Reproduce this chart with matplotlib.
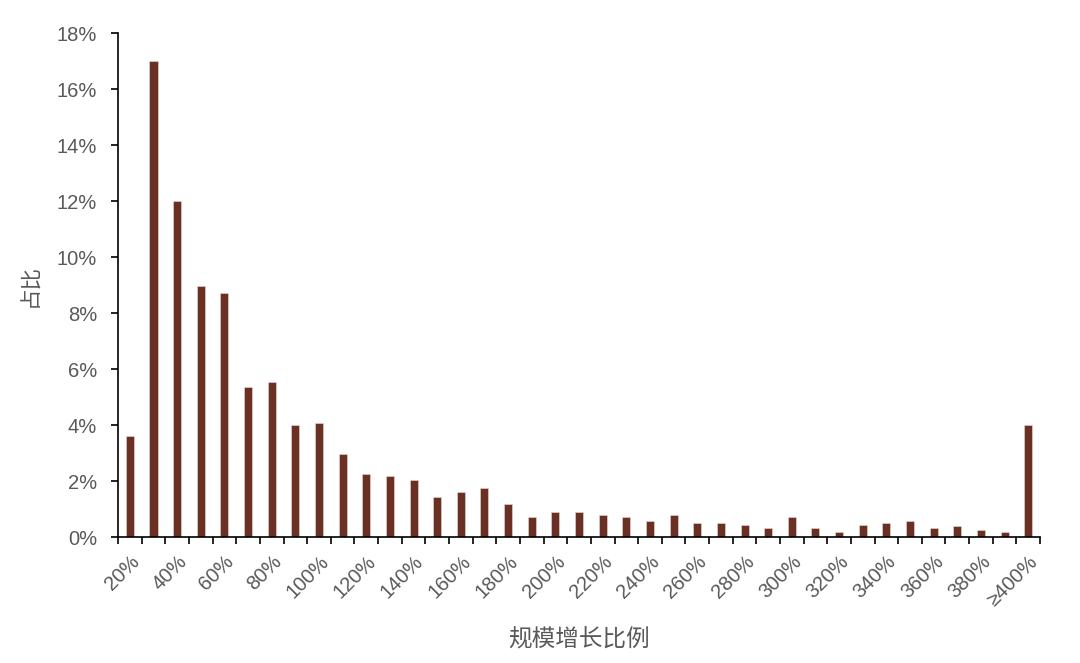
import numpy as np
import matplotlib.pyplot as plt
from matplotlib.ticker import FuncFormatter, FixedLocator

plt.rcParams['font.family'] = ['Liberation Sans', 'Noto Sans CJK SC', 'DejaVu Sans']

# growth-ratio buckets, 20% .. 390% in steps of 10, then >=400%
categories = [f"{v}%" for v in range(20, 400, 10)] + ["≥400%"]
shares = [3.60, 17.02, 12.01, 8.98, 8.72, 5.36, 5.55, 4.00, 4.08, 2.98,
          2.25, 2.18, 2.05, 1.42, 1.62, 1.74, 1.17, 0.70, 0.89, 0.89,
          0.77, 0.70, 0.58, 0.77, 0.51, 0.51, 0.44, 0.31, 0.70, 0.31,
          0.19, 0.44, 0.51, 0.58, 0.31, 0.38, 0.25, 0.19, 4.01]
y_ticks = [0, 2, 4, 6, 8, 10, 12, 14, 16, 18]

text_color = "#595959"
bar_color = "#6B3024"

fig = plt.figure(figsize=(10.8, 6.63), dpi=100)
ax = fig.add_axes([0.1093, 0.190, 0.8537, 0.760])

x = np.arange(len(categories))
ax.bar(x, shares, width=0.34, color=bar_color, edgecolor="#E8D8D4", linewidth=0.4)

ax.set_xlim(-0.5, len(categories) - 0.5)
ax.set_ylim(0, 18)
ax.set_yticks(y_ticks)
ax.yaxis.set_major_formatter(FuncFormatter(lambda v, p: f"{v:.0f}%"))

# labels every other category, tick marks on the category boundaries
label_pos = [i for i in range(len(categories)) if i % 2 == 0]
ax.set_xticks(label_pos)
ax.set_xticklabels([categories[i] for i in label_pos], rotation=45,
                   ha="right", rotation_mode="anchor")
ax.xaxis.set_minor_locator(FixedLocator(np.arange(-0.5, len(categories), 1.0)))
ax.tick_params(axis="x", which="major", length=0, pad=11)
ax.tick_params(axis="x", which="minor", length=5, width=1.2, direction="out", color="black")
ax.tick_params(axis="y", length=5, width=1.2, direction="out", color="black", pad=10)
ax.tick_params(labelsize=14.5, labelcolor=text_color)

for side in ["top", "right"]:
    ax.spines[side].set_visible(False)
for side in ["left", "bottom"]:
    ax.spines[side].set_linewidth(1.2)
    ax.spines[side].set_color("black")

ax.set_ylabel("占比", fontsize=15.5, color=text_color)
ax.yaxis.set_label_coords(-0.083, 0.5)
ax.set_xlabel("规模增长比例", fontsize=17, color=text_color)
ax.xaxis.set_label_coords(0.5, -0.18)

fig.savefig("out.png", dpi=100)
